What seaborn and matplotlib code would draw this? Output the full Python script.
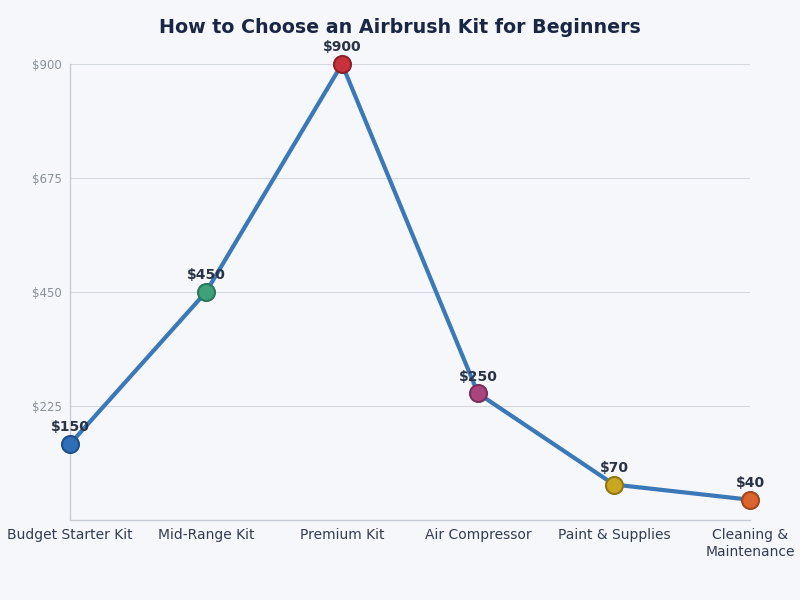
import pandas as pd
import matplotlib.pyplot as plt
import seaborn as sns

categories = ['Budget Starter Kit', 'Mid-Range Kit', 'Premium Kit', 'Air Compressor',
              'Paint & Supplies', 'Cleaning &\nMaintenance']
costs = [150, 450, 900, 250, 70, 40]
point_colors = ['#2e6fb7', '#3fa07c', '#c8323c', '#a8457f', '#c9a722', '#d9642c']
edge_colors = ['#1f4f88', '#2a7a5a', '#8f1f28', '#7a2f5c', '#8f7714', '#a4461a']
yticks = [225, 450, 675, 900]

sns.set_theme(style='white')
plt.rcParams['font.family'] = ['DejaVu Sans']

df = pd.DataFrame({'x': range(len(categories)), 'cost': costs, 'cat': categories})

fig = plt.figure(figsize=(8, 6), dpi=100, facecolor='#f5f7fb')
ax = fig.add_axes([0.0875, 0.1333, 0.85, 0.76])
ax.set_facecolor('#f5f7fb')

sns.lineplot(data=df, x='x', y='cost', color='#3a78b8', linewidth=3, ax=ax, zorder=2)
for i, row in df.iterrows():
    ax.scatter(row['x'], row['cost'], s=150, color=point_colors[i], edgecolor=edge_colors[i],
               linewidth=1.5, zorder=3, clip_on=False)
    ax.text(row['x'], row['cost'] + 19, f"${row['cost']}", ha='center', va='bottom',
            fontsize=10, fontweight='bold', color='#2a3345', zorder=4)

ax.set_xlim(0, len(categories) - 1)
ax.set_ylim(0, 900)
ax.set_xticks(range(len(categories)))
ax.set_xticklabels(categories, fontsize=10, color='#333d50')
ax.set_yticks(yticks)
ax.set_yticklabels([f'${v}' for v in yticks], fontsize=8.5, color='#8a909c')
ax.tick_params(axis='x', length=0, pad=6)
ax.tick_params(axis='y', length=0, pad=6)
ax.grid(axis='y', color='#d5d9e0', linewidth=0.8)
ax.set_axisbelow(True)
for s in ['top', 'right']:
    ax.spines[s].set_visible(False)
for s in ['left', 'bottom']:
    ax.spines[s].set_color('#c8ccd4')
    ax.spines[s].set_linewidth(1)
ax.set_xlabel('')
ax.set_ylabel('')
fig.suptitle('How to Choose an Airbrush Kit for Beginners', x=0.5, y=0.97, fontsize=13.7,
             fontweight='bold', color='#1a2744')
for t in ax.texts:
    t.set_clip_on(False)
for line in ax.lines:
    line.set_clip_on(False)

fig.savefig('out.png', dpi=100, facecolor=fig.get_facecolor())
